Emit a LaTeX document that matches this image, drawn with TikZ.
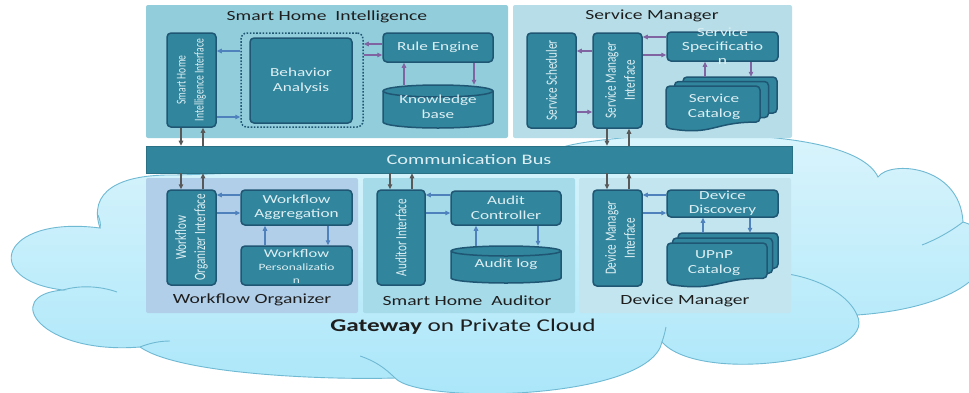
\documentclass[tikz,border=0pt]{standalone}
\usepackage{fontspec}
\setmainfont{Carlito}
\newfontfamily\hf[FakeStretch=1.4]{Carlito}
\newfontfamily\vf[FakeStretch=0.714]{Carlito}
\usetikzlibrary{arrows.meta}
\definecolor{boxfill}{HTML}{31859C}
\definecolor{boxline}{HTML}{1F5673}
\definecolor{boxtext}{HTML}{DDEFF4}
\definecolor{pshi}{HTML}{92CDDC}
\definecolor{psm}{HTML}{B7DEE8}
\definecolor{pwo}{HTML}{B2CFE9}
\definecolor{psha}{HTML}{A6DBEA}
\definecolor{pdm}{HTML}{C2E5EF}
\definecolor{cloudtop}{HTML}{DCF5FC}
\definecolor{cloudbot}{HTML}{A9E6F9}
\definecolor{cloudline}{HTML}{6FB9D3}
\definecolor{arrgray}{HTML}{595959}
\definecolor{arrblue}{HTML}{4F81BD}
\definecolor{arrpurple}{HTML}{8064A2}
\definecolor{titletext}{HTML}{1E1E1E}
\newcommand\docpage[4]{%
  \filldraw[box] (#1,#2) -- ({#1+#3},#2) -- ({#1+#3},{#2+0.802*#4})
    .. controls ({#1+0.5*#3},{#2+0.802*#4}) and ({#1+0.5*#3},{#2+1.1075*#4}) ..
    (#1,{#2+0.934*#4}) -- cycle;}
\newcommand\cylpath[5]{% x0 y0 x1 y1 e
  \filldraw[box,rounded corners=0pt] (#1,{#2+#5}) -- (#1,{#4-#5})
    arc[start angle=180,end angle=0,x radius={(#3-#1)/2},y radius=#5]
    -- (#3,{#2+#5})
    arc[start angle=0,end angle=-180,x radius={(#3-#1)/2},y radius=#5] -- cycle;
  \draw[box,rounded corners=0pt] (#1,{#2+#5})
    arc[start angle=180,end angle=0,x radius={(#3-#1)/2},y radius=#5];}
\begin{document}
\begin{tikzpicture}[x=1pt,y=-1pt,
  box/.style={draw=boxline,fill=boxfill,line width=1.5pt,rounded corners=4pt},
  boxnode/.style={box,inner sep=0pt,text=boxtext,align=center},
  ghost/.style={inner sep=0pt,draw=none,fill=none},
  intext/.style={text=boxtext,align=center,inner sep=0pt,
    font=\hf\fontsize{12.3}{14.5}\selectfont},
  vtext/.style={text=boxtext,align=center,inner sep=0pt,rotate=90,
    font=\vf\fontsize{15.7}{19}\selectfont},
  panel/.style={draw=none,rounded corners=2pt},
  ptitle/.style={text=titletext,inner sep=0pt,font=\hf\fontsize{14}{16}\selectfont},
  garrow/.style={draw=arrgray,line width=1.2pt,-{Triangle[length=5pt,width=4.5pt]}},
  barrow/.style={draw=arrblue,line width=1.2pt,-{Triangle[length=5pt,width=4.5pt]}},
  parrow/.style={draw=arrpurple,line width=1.2pt,-{Triangle[length=5pt,width=4.5pt]}},
  crease/.style={draw=cloudline,line width=0.9pt}
]
\useasboundingbox (0,0) rectangle (969,392);
\fill[white] (0,0) rectangle (969,392);
% ---------------- cloud ----------------
\path[top color=cloudtop,bottom color=cloudbot,draw=cloudline,line width=0.9pt]
  (100,228) .. controls (88,192) and (118,174) .. (175,175)
  .. controls (300,172) and (450,160) .. (560,148)
  .. controls (600,133) and (850,118) .. (878,177)
  .. controls (890,160) and (960,165) .. (963,222)
  .. controls (1010,235) and (1000,305) .. (857,315)
  .. controls (880,360) and (700,385) .. (662,342)
  .. controls (650,400) and (420,405) .. (395,378)
  .. controls (330,380) and (180,375) .. (140,347)
  .. controls (40,355) and (0,295) .. (63,290)
  .. controls (-20,280) and (0,215) .. (100,228) -- cycle;
\draw[crease] (63,290) .. controls (80,285) and (100,286) .. (117,292);
\draw[crease] (140,347) .. controls (150,343) and (160,341) .. (170,341);
\draw[crease] (395,378) .. controls (385,368) and (375,361) .. (360,356);
\draw[crease] (857,315) .. controls (850,298) and (825,279) .. (782,273);
\draw[crease] (963,222) .. controls (950,232) and (935,240) .. (922,245);
\draw[crease] (662,342) .. controls (664,336) and (665,332) .. (666,327);
\draw[crease] (100,228) .. controls (101,224) and (100,220) .. (98,215);
% ---------------- panels ----------------
\fill[panel,pshi] (146,5) rectangle (508,138);
\fill[panel,psm] (513,5) rectangle (792,138);
\fill[panel,pwo] (146,178) rectangle (358,313);
\fill[panel,psha] (363,178) rectangle (575,313);
\fill[panel,pdm] (579,178) rectangle (791,313);
\node[ptitle] (tshi) at (327,17) {Smart Home\ \ Intelligence};
\node[ptitle] (tsm) at (652,16) {Service Manager};
\node[ptitle] (two) at (252,300) {Workflow Organizer};
\node[ptitle] (tsha) at (467,301) {Smart Home\ \ Auditor};
\node[ptitle] (tdm) at (685,301) {Device Manager};
% ---------------- bus ----------------
\node[fill=boxfill,draw=boxfill!85!black,line width=0.6pt,inner sep=0pt,
  minimum width=646pt,minimum height=27pt,text=boxtext,
  font=\hf\fontsize{14.5}{16}\selectfont] (bus) at (469,159.5) {Communication Bus};
% ---------------- Smart Home Intelligence ----------------
\node[boxnode,minimum width=49pt,minimum height=94pt] (shii) at (191.5,80) {};
\node[vtext,font=\vf\fontsize{13.5}{18}\selectfont] (shiit) at (shii) {Smart Home\\Intelligence Interface};
\node[draw=boxline,line width=1.5pt,dash pattern=on 1.6pt off 1.6pt,rounded corners=6pt,
  minimum width=122pt,minimum height=94pt,inner sep=0pt] (dotted) at (302,80) {};
\node[boxnode,minimum width=102pt,minimum height=85pt,intext] (ba) at (301,80.5) {Behavior\\Analysis};
\node[boxnode,minimum width=110pt,minimum height=29pt,intext] (re) at (438,47.5) {Rule Engine};
\cylpath{383}{85}{493}{128}{6}
\node[ghost,minimum width=110pt,minimum height=43pt,intext] (kb) at (438,106.5) {\raisebox{-4pt}{\shortstack{Knowledge\\[1pt]base}}};
\draw[barrow] (dotted.west |- 0,51) -- (shii.east |- 0,51);
\draw[barrow] (shii.east |- 0,117) -- (dotted.west |- 0,117);
\draw[parrow] (re.west |- 0,44) -- (dotted.east |- 0,44);
\draw[parrow] (dotted.east |- 0,55) -- (re.west |- 0,55);
\draw[parrow] (404,0 |- kb.north) -- (404,0 |- re.south);
\draw[parrow] (474,0 |- re.south) -- (474,0 |- kb.north);
% ---------------- Service Manager ----------------
\node[boxnode,minimum width=49pt,minimum height=95pt] (ssch) at (551.5,80.5) {};
\node[vtext] (sscht) at (ssch) {Service Scheduler};
\node[boxnode,minimum width=49pt,minimum height=95pt] (smi) at (617.5,80.5) {};
\node[vtext] (smit) at (620,80.5) {Service Manager\\Interface};
\node[boxnode,minimum width=111pt,minimum height=29pt] (sspec) at (722.5,46.5) {};
\node[intext,font=\hf\fontsize{12.5}{14}\selectfont] (sspect) at (sspec) {Service\\Specificatio\\n};
\docpage{683}{77}{94}{45}
\docpage{674.5}{81.5}{94}{45}
\docpage{666}{86}{94}{45}
\node[ghost,minimum width=111pt,minimum height=54pt] (scat) at (721.5,104) {};
\node[intext] (scatt) at (714,107) {Service\\Catalog};
\draw[parrow] (sspec.west |- 0,37) -- (smi.east |- 0,37);
\draw[parrow] (smi.east |- 0,55) -- (sspec.west |- 0,55);
\draw[parrow] (smi.west |- 0,51) -- (ssch.east |- 0,51);
\draw[parrow] (ssch.east |- 0,112) -- (smi.west |- 0,112);
\draw[parrow] (705,0 |- scat.north) -- (705,0 |- sspec.south);
\draw[parrow] (751,0 |- sspec.south) -- (751,0 |- scat.north);
% ---------------- Workflow Organizer ----------------
\node[boxnode,minimum width=49pt,minimum height=95pt] (woi) at (191.5,237.5) {};
\node[vtext] (woit) at (woi) {Workflow\\Organizer Interface};
\node[boxnode,minimum width=111pt,minimum height=35pt,intext] (wa) at (296.5,207.5) {Workflow\\Aggregation};
\node[boxnode,minimum width=111pt,minimum height=39pt] (wp) at (296.5,265.5) {};
\node[intext,font=\hf\fontsize{11.8}{13}\selectfont] (wpt) at (296.5,266) {Workflow\\{\fontsize{9.6}{11.5}\selectfont Personalizatio}\\{\fontsize{9.6}{11.5}\selectfont n}};
\draw[barrow] (wa.west |- 0,195) -- (woi.east |- 0,195);
\draw[barrow] (woi.east |- 0,213) -- (wa.west |- 0,213);
\draw[barrow] (265,0 |- wp.north) -- (265,0 |- wa.south);
\draw[barrow] (328,0 |- wa.south) -- (328,0 |- wp.north);
% ---------------- Smart Home Auditor ----------------
\node[boxnode,minimum width=48pt,minimum height=95pt] (ai) at (401,237.5) {};
\node[vtext] (ait) at (ai) {Auditor Interface};
\node[boxnode,minimum width=110pt,minimum height=34pt,intext] (ac) at (506,208) {Audit\\Controller};
\cylpath{451}{246}{561}{283}{5}
\node[ghost,minimum width=110pt,minimum height=37pt,intext] (al) at (506,264.5) {\raisebox{-3pt}{Audit log}};
\draw[barrow] (ac.west |- 0,195) -- (ai.east |- 0,195);
\draw[barrow] (ai.east |- 0,213) -- (ac.west |- 0,213);
\draw[barrow] (476,0 |- al.north) -- (476,0 |- ac.south);
\draw[barrow] (538,0 |- ac.south) -- (538,0 |- al.north);
% ---------------- Device Manager ----------------
\node[boxnode,minimum width=49pt,minimum height=96pt] (dmi) at (617.5,238) {};
\node[vtext] (dmit) at (620,238) {Device Manager\\Interface};
\node[boxnode,minimum width=111pt,minimum height=27pt,intext] (dd) at (722.5,203.5) {Device\\Discovery};
\docpage{678}{233}{100}{44}
\docpage{672.5}{238}{100}{44}
\docpage{667}{243}{100}{44}
\node[ghost,minimum width=111pt,minimum height=54pt] (upnp) at (722.5,260) {};
\node[intext] (upnpt) at (714,263) {UPnP\\Catalog};
\draw[barrow] (dd.west |- 0,195) -- (dmi.east |- 0,195);
\draw[barrow] (dmi.east |- 0,213) -- (dd.west |- 0,213);
\draw[barrow] (703,0 |- upnp.north) -- (703,0 |- dd.south);
\draw[barrow] (750,0 |- dd.south) -- (750,0 |- upnp.north);
% ---------------- bus connectors ----------------
\draw[garrow] (181,0 |- shii.south) -- (181,0 |- bus.north);
\draw[garrow] (203,0 |- bus.north) -- (203,0 |- shii.south);
\draw[garrow] (607,0 |- smi.south) -- (607,0 |- bus.north);
\draw[garrow] (629,0 |- bus.north) -- (629,0 |- smi.south);
\draw[garrow] (181,0 |- bus.south) -- (181,0 |- woi.north);
\draw[garrow] (203,0 |- woi.north) -- (203,0 |- bus.south);
\draw[garrow] (390,0 |- bus.south) -- (390,0 |- ai.north);
\draw[garrow] (412,0 |- ai.north) -- (412,0 |- bus.south);
\draw[garrow] (607,0 |- bus.south) -- (607,0 |- dmi.north);
\draw[garrow] (629,0 |- dmi.north) -- (629,0 |- bus.south);
% ---------------- caption ----------------
\node[text=titletext,inner sep=0pt,font=\hf\fontsize{18}{20}\selectfont] (gw) at (463,327)
  {\textbf{Gateway} on Private Cloud};
\end{tikzpicture}
\end{document}
